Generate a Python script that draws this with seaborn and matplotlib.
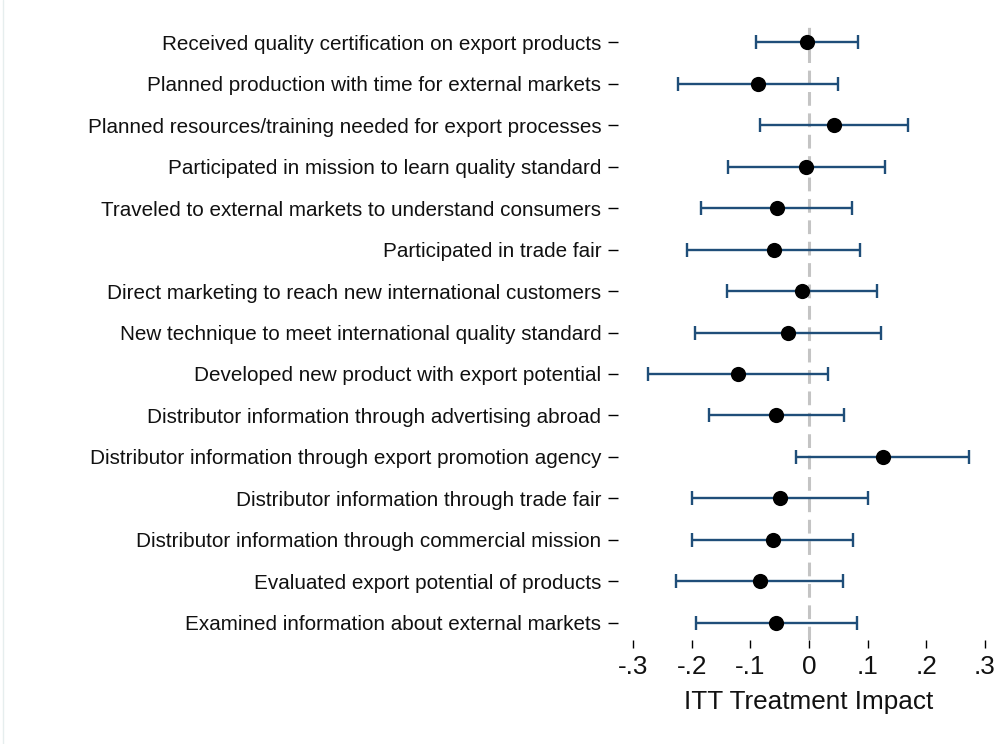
import matplotlib
matplotlib.use('Agg')
import matplotlib.pyplot as plt
import numpy as np
import pandas as pd
import seaborn as sns

outcomes = [
    'Received quality certification on export products',
    'Planned production with time for external markets',
    'Planned resources/training needed for export processes',
    'Participated in mission to learn quality standard',
    'Traveled to external markets to understand consumers',
    'Participated in trade fair',
    'Direct marketing to reach new international customers',
    'New technique to meet international quality standard',
    'Developed new product with export potential',
    'Distributor information through advertising abroad',
    'Distributor information through export promotion agency',
    'Distributor information through trade fair',
    'Distributor information through commercial mission',
    'Evaluated export potential of products',
    'Examined information about external markets',
]
itt = [-0.003, -0.087, 0.043, -0.005, -0.055, -0.060, -0.012, -0.035,
       -0.121, -0.056, 0.126, -0.049, -0.062, -0.084, -0.056]
ci_low = [-0.090, -0.224, -0.083, -0.138, -0.184, -0.208, -0.140, -0.194,
          -0.274, -0.171, -0.023, -0.200, -0.199, -0.226, -0.193]
ci_high = [0.084, 0.050, 0.168, 0.129, 0.073, 0.087, 0.116, 0.123,
           0.032, 0.060, 0.273, 0.101, 0.075, 0.058, 0.081]
xticks = [-0.3, -0.2, -0.1, 0, 0.1, 0.2, 0.3]
xtick_labels = ['-.3', '-.2', '-.1', '0', '.1', '.2', '.3']

df = pd.DataFrame({'outcome': outcomes, 'itt': itt, 'lo': ci_low, 'hi': ci_high})
df['pos'] = np.arange(len(df))

sns.set_theme(style='white')
plt.rcParams['font.family'] = ['Liberation Sans', 'DejaVu Sans']

fig = plt.figure(figsize=(10.05, 7.44), dpi=100)
ax = fig.add_axes([618 / 1005, 1 - 640 / 744, 382 / 1005, 615 / 744])

# zero reference line
ax.axvline(0, color='#c4c4c4', lw=2.2, ls=(0, (4.5, 2.5)), zorder=1)

# confidence intervals + point estimates
ax.errorbar(df['itt'], df['pos'],
            xerr=[df['itt'] - df['lo'], df['hi'] - df['itt']],
            fmt='none', ecolor='#1f4e79', elinewidth=1.7, capsize=4.7,
            capthick=1.7, zorder=2)
sns.scatterplot(data=df, x='itt', y='pos', color='black', s=120,
                edgecolor='black', linewidth=0, zorder=3, ax=ax)

ax.set_ylim(len(df) - 1 + 0.41, -0.41)
ax.set_xlim(-0.3257, 0.3257)
ax.set_yticks(df['pos'])
ax.set_yticklabels(df['outcome'], fontsize=14.9, color='#111111')
ax.set_xticks(xticks)
ax.set_xticklabels(xtick_labels, fontsize=18.8, color='#111111')
ax.tick_params(axis='y', length=7.5, width=1, pad=4.5, color='black', left=True)
ax.tick_params(axis='x', length=6, width=1, pad=5, color='black', bottom=True)
ax.set_ylabel('')
ax.set_xlabel('ITT Treatment Impact', fontsize=18.8, labelpad=8, color='#111111')
for s in ax.spines.values():
    s.set_visible(False)

# faint outer border at the left edge
fig.add_artist(plt.Line2D([2.5 / 1005, 2.5 / 1005], [0, 1], transform=fig.transFigure,
                          color='#e6eeee', lw=1))

fig.savefig('out.png', dpi=100, facecolor='white')
